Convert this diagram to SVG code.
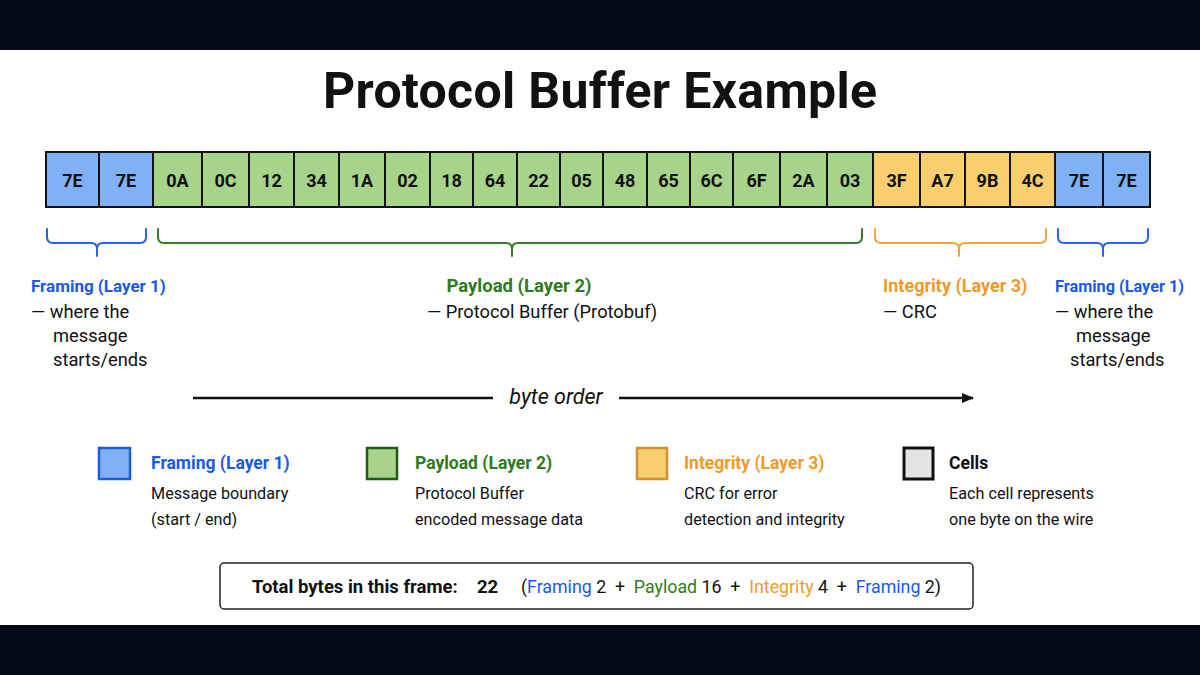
<svg xmlns="http://www.w3.org/2000/svg" width="1200" height="675" viewBox="0 0 1200 675">
<style>
text{font-family:Roboto,"Liberation Sans",sans-serif;}
.cell{stroke:#111;stroke-width:2;}
.blue{fill:#80b1f4;} .green{fill:#a7d48a;} .orange{fill:#f9cf6d;}
.ct{font-size:18px;font-weight:700;fill:#111;text-anchor:middle;}
.brace{fill:none;stroke-width:2;stroke-linecap:round;stroke-linejoin:round;}
.hb{font-size:17px;font-weight:700;}
.bd{font-size:18.3px;fill:#111;}
.lg{font-size:16.2px;fill:#111;}
.lh{font-size:17.5px;font-weight:700;}
.tb{fill:#1a5ae8;} .tg{fill:#2f7a1e;} .to{fill:#f09a2a;}
</style>
<defs>
<marker id="ah" markerWidth="12" markerHeight="10" refX="11" refY="5" orient="auto" markerUnits="userSpaceOnUse">
<path d="M0,0 L12,5 L0,10 Z" fill="#111"/>
</marker>
</defs>
<rect x="0" y="0" width="1200" height="675" fill="#ffffff"/>
<rect x="0" y="0" width="1200" height="50" fill="#050a18"/>
<rect x="0" y="625" width="1200" height="50" fill="#050a18"/>

<text x="600" y="108" text-anchor="middle" font-size="50" font-weight="700" fill="#111" textLength="554">Protocol Buffer Example</text>

<g id="cells">
<g id="cell-f1"><rect class="cell blue" x="46" y="152" width="53" height="55"/><text class="ct" x="72.5" y="187">7E</text></g>
<g id="cell-f2"><rect class="cell blue" x="99" y="152" width="54" height="55"/><text class="ct" x="126" y="187">7E</text></g>
<g id="cell-p1"><rect class="cell green" x="153" y="152" width="49" height="55"/><text class="ct" x="177.5" y="187">0A</text></g>
<g id="cell-p2"><rect class="cell green" x="202" y="152" width="47" height="55"/><text class="ct" x="225.5" y="187">0C</text></g>
<g id="cell-p3"><rect class="cell green" x="249" y="152" width="45" height="55"/><text class="ct" x="271.5" y="187">12</text></g>
<g id="cell-p4"><rect class="cell green" x="294" y="152" width="45" height="55"/><text class="ct" x="316.5" y="187">34</text></g>
<g id="cell-p5"><rect class="cell green" x="339" y="152" width="46" height="55"/><text class="ct" x="362" y="187">1A</text></g>
<g id="cell-p6"><rect class="cell green" x="385" y="152" width="45" height="55"/><text class="ct" x="407.5" y="187">02</text></g>
<g id="cell-p7"><rect class="cell green" x="430" y="152" width="43" height="55"/><text class="ct" x="451.5" y="187">18</text></g>
<g id="cell-p8"><rect class="cell green" x="473" y="152" width="44" height="55"/><text class="ct" x="495" y="187">64</text></g>
<g id="cell-p9"><rect class="cell green" x="517" y="152" width="43" height="55"/><text class="ct" x="538.5" y="187">22</text></g>
<g id="cell-p10"><rect class="cell green" x="560" y="152" width="43" height="55"/><text class="ct" x="581.5" y="187">05</text></g>
<g id="cell-p11"><rect class="cell green" x="603" y="152" width="44" height="55"/><text class="ct" x="625" y="187">48</text></g>
<g id="cell-p12"><rect class="cell green" x="647" y="152" width="43" height="55"/><text class="ct" x="668.5" y="187">65</text></g>
<g id="cell-p13"><rect class="cell green" x="690" y="152" width="43" height="55"/><text class="ct" x="711.5" y="187">6C</text></g>
<g id="cell-p14"><rect class="cell green" x="733" y="152" width="47" height="55"/><text class="ct" x="756.5" y="187">6F</text></g>
<g id="cell-p15"><rect class="cell green" x="780" y="152" width="47" height="55"/><text class="ct" x="803.5" y="187">2A</text></g>
<g id="cell-p16"><rect class="cell green" x="827" y="152" width="46" height="55"/><text class="ct" x="850" y="187">03</text></g>
<g id="cell-i1"><rect class="cell orange" x="873" y="152" width="47" height="55"/><text class="ct" x="896.5" y="187">3F</text></g>
<g id="cell-i2"><rect class="cell orange" x="920" y="152" width="45" height="55"/><text class="ct" x="942.5" y="187">A7</text></g>
<g id="cell-i3"><rect class="cell orange" x="965" y="152" width="45" height="55"/><text class="ct" x="987.5" y="187">9B</text></g>
<g id="cell-i4"><rect class="cell orange" x="1010" y="152" width="45" height="55"/><text class="ct" x="1032.5" y="187">4C</text></g>
<g id="cell-f3"><rect class="cell blue" x="1055" y="152" width="48" height="55"/><text class="ct" x="1079" y="187">7E</text></g>
<g id="cell-f4"><rect class="cell blue" x="1103" y="152" width="47" height="55"/><text class="ct" x="1126.5" y="187">7E</text></g>
</g>

<g id="braces">
<path class="brace" stroke="#2a62e6" d="M47,229 V237 Q47,243 53,243 H91 Q97,243 97,249 V256 M97,249 Q97,243 103,243 H140 Q146,243 146,237 V229"/>
<path class="brace" stroke="#3a7a2a" d="M158,229 V237 Q158,243 164,243 H506 Q512,243 512,249 V256 M512,249 Q512,243 518,243 H856 Q862,243 862,237 V229"/>
<path class="brace" stroke="#f0a540" d="M875,229 V237 Q875,243 881,243 H953 Q959,243 959,249 V256 M959,249 Q959,243 965,243 H1040 Q1046,243 1046,237 V229"/>
<path class="brace" stroke="#2a62e6" d="M1058,229 V237 Q1058,243 1064,243 H1097 Q1103,243 1103,249 V256 M1103,249 Q1103,243 1109,243 H1142 Q1148,243 1148,237 V229"/>
</g>

<g id="label-framing-left">
<text class="hb tb" x="31" y="292">Framing (Layer 1)</text>
<text class="bd" x="31" y="318">— where the</text>
<text class="bd" x="53" y="342">message</text>
<text class="bd" x="53" y="366">starts/ends</text>
</g>
<g id="label-payload">
<text class="hb tg" x="519" y="292" text-anchor="middle" style="font-size:18.5px">Payload (Layer 2)</text>
<text class="bd" x="542" y="318" text-anchor="middle">— Protocol Buffer (Protobuf)</text>
</g>
<g id="label-integrity">
<text class="hb to" x="883" y="292" style="font-size:18px">Integrity (Layer 3)</text>
<text class="bd" x="883" y="318">— CRC</text>
</g>
<g id="label-framing-right">
<text class="hb tb" x="1055" y="292" style="font-size:16.3px">Framing (Layer 1)</text>
<text class="bd" x="1055" y="318">— where the</text>
<text class="bd" x="1076" y="342">message</text>
<text class="bd" x="1070" y="366">starts/ends</text>
</g>

<g id="byte-order">
<line x1="193" y1="398" x2="493" y2="398" stroke="#111" stroke-width="2.5"/>
<line x1="619" y1="398" x2="973" y2="398" stroke="#111" stroke-width="2.5" marker-end="url(#ah)"/>
<text x="556" y="404" text-anchor="middle" font-size="21.5" font-style="italic" fill="#111">byte order</text>
</g>

<g id="legend">
<g id="legend-framing">
<rect x="99" y="448" width="31" height="31" fill="#80b1f4" stroke="#1d5ce6" stroke-width="2.5"/>
<text class="lh tb" x="151" y="469">Framing (Layer 1)</text>
<text class="lg" x="151" y="499">Message boundary</text>
<text class="lg" x="151" y="525">(start / end)</text>
</g>
<g id="legend-payload">
<rect x="367" y="448" width="30" height="31" fill="#a7d48a" stroke="#245a18" stroke-width="2.5"/>
<text class="lh tg" x="415" y="469">Payload (Layer 2)</text>
<text class="lg" x="415" y="499">Protocol Buffer</text>
<text class="lg" x="415" y="525">encoded message data</text>
</g>
<g id="legend-integrity">
<rect x="637" y="448" width="30" height="31" fill="#f9cf6d" stroke="#d4902e" stroke-width="2.5"/>
<text class="lh to" x="684" y="469">Integrity (Layer 3)</text>
<text class="lg" x="684" y="499">CRC for error</text>
<text class="lg" x="684" y="525">detection and integrity</text>
</g>
<g id="legend-cells">
<rect x="904" y="448" width="29" height="31" fill="#e4e4e4" stroke="#111" stroke-width="3"/>
<text class="lh" x="949" y="469" fill="#111">Cells</text>
<text class="lg" x="949" y="499">Each cell represents</text>
<text class="lg" x="949" y="525">one byte on the wire</text>
</g>
</g>

<g id="summary">
<rect x="220" y="563" width="753" height="46" rx="4" fill="#fff" stroke="#222" stroke-width="1.5"/>
<text x="252" y="593" font-size="18.5" font-weight="700" fill="#111">Total bytes in this frame:</text>
<text x="477" y="593" font-size="18.5" font-weight="700" fill="#111">22</text>
<text x="521" y="593" font-size="17.8" fill="#111" xml:space="preserve" textLength="420">(<tspan class="tb">Framing</tspan> 2  +  <tspan class="tg">Payload</tspan> 16  +  <tspan class="to">Integrity</tspan> 4  +  <tspan class="tb">Framing</tspan> 2)</text>
</g>
</svg>
